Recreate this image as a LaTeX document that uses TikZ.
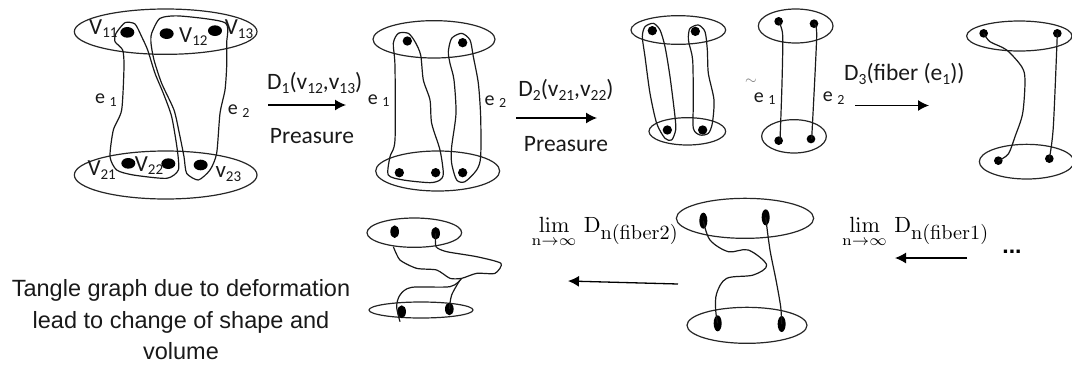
\documentclass[tikz,border=0pt]{standalone}
\usepackage{graphicx}
\usepackage[no-math]{fontspec}
\setmainfont{Carlito}
\newfontfamily\arialf{Liberation Sans}
\usetikzlibrary{arrows.meta}
\newcommand{\sbs}[1]{\raisebox{-0.35ex}{\fontsize{15}{15}\selectfont #1}}
\newcommand{\sbt}[1]{\raisebox{-0.35ex}{\fontsize{15.5}{15.5}\selectfont #1}}
\newcommand{\sbe}[1]{\raisebox{-0.3ex}{\fontsize{14}{14}\selectfont #1}}
\newcommand{\limtxt}[1]{\scalebox{2.2}{$\displaystyle\lim_{\mathrm{n}\to\infty}\,\mathrm{D}_{\hbox{\scalebox{0.92}{$\mathrm{n(fiber#1)}$}}}$}}
\tikzset{
 ring/.style={draw=black!85,line width=1.2pt},
 hull/.style={draw=black!90,line width=1.2pt,line join=round},
 bead/.style={fill=black},
 vlab/.style={inner sep=0pt,font=\fontsize{23}{26}\selectfont,text=black!90},
 elab/.style={inner sep=0pt,font=\fontsize{20}{22}\selectfont,text=black!90},
 oplab/.style={inner sep=0pt,font=\fontsize{23.5}{26}\selectfont,text=black!90},
 limlab/.style={inner sep=0pt,anchor=base west},
 flow/.style={draw=black,line width=1.3pt,-{Latex[length=11pt,width=11pt]}},
 zoomA/.style={shift={(#1)},x=0.33333pt,y=-0.33333pt}
}
\begin{document}
\begin{tikzpicture}[x=1pt,y=-1pt]
\useasboundingbox (0,0) rectangle (1072,365);
% panel 1
\begin{scope}[zoomA={50,0}]
\draw[ring] (347,95) ellipse [x radius=274,y radius=68];
\draw[ring] (347,525) ellipse [x radius=274,y radius=72];
\foreach \p/\q in {232/97,350/101,495/92,235/490,355/491,452/495}
 \fill[bead] (\p,\q) ellipse [x radius=21,y radius=16];
\draw[hull] plot[smooth cycle,tension=0.4] coordinates {(198,100)(225,68)(255,72)(275,110)(293,150)(315,220)(340,280)(365,350)(382,450)(385,510)(350,535)(250,525)(200,510)(180,470)(190,390)(215,330)(222,200)(218,150)(195,125)};
\draw[hull] plot[smooth cycle,tension=0.4] coordinates {(305,100)(330,55)(390,48)(525,68)(530,130)(530,200)(525,270)(510,340)(500,460)(480,510)(445,540)(410,520)(402,470)(388,400)(372,330)(335,250)(312,180)(303,130)};
\node[vlab] (v11) at (160,86) {V\sbs{11}};
\node[vlab] (v12) at (430,110) {V\sbs{12}};
\node[vlab] (v13) at (567,88) {V\sbs{13}};
\node[vlab] (v21) at (155,510) {V\sbs{21}};
\node[vlab] (v22) at (297,497) {V\sbs{22}};
\node[vlab] (v23) at (535,522) {v\sbs{23}};
\node[elab] (e1a) at (168,301) {e \sbe{1}};
\node[elab] (e2a) at (566,333) {e \sbe{2}};
\end{scope}
\node[oplab,anchor=west] (d1) at (267,83) {D\sbt{1}(v\sbt{12},v\sbt{13})};
\node[oplab] (p1) at (312,136) {Preasure};
\coordinate (a1s) at (268,105); \coordinate (a1e) at (346,105);
\draw[flow] (a1s) -- (a1e);
% panel 2
\begin{scope}[zoomA={350,0}]
\draw[ring] (252,118) ellipse [x radius=183,y radius=56];
\draw[ring] (263,513) ellipse [x radius=186,y radius=60];
\foreach \p/\q in {172/123,338/128,148/518,257/518,338/518}
 \fill[bead] (\p,\q) circle [x radius=14,y radius=14];
\draw[hull] plot[smooth cycle,tension=0.45] coordinates {(130,130)(145,100)(175,100)(195,125)(212,165)(220,240)(240,300)(245,370)(270,450)(280,520)(270,540)(240,548)(160,540)(115,525)(120,470)(135,420)(135,200)};
\draw[hull] plot[smooth cycle,tension=0.45] coordinates {(295,155)(305,115)(335,100)(360,120)(370,170)(385,250)(392,350)(392,470)(380,510)(345,545)(320,540)(305,490)(305,440)(318,340)(312,240)(300,190)};
\node[elab] (e1b) at (86,302) {e \sbe{1}};
\node[elab] (e2b) at (436,305) {e \sbe{2}};
\end{scope}
\node[oplab] (d2) at (566,90) {D\sbt{2}(v\sbt{21},v\sbt{22})};
\node[oplab] (p2) at (566,144) {Preasure};
\coordinate (a2s) at (516,118); \coordinate (a2e) at (597,118);
\draw[flow] (a2s) -- (a2e);
% panel 3
\begin{scope}[zoomA={625,0}]
\draw[ring] (160,90) ellipse [x radius=142,y radius=43];
\draw[ring] (187,394) ellipse [x radius=115,y radius=41];
\foreach \p/\q in {82/92,211/94,127/390,233/390}
 \fill[bead] (\p,\q) circle [x radius=14,y radius=14];
\draw[hull] plot[smooth cycle,tension=0.45] coordinates {(52,110)(60,80)(85,70)(105,90)(120,140)(135,230)(150,350)(152,390)(140,420)(120,415)(95,370)(75,280)(60,170)};
\draw[hull] plot[smooth cycle,tension=0.45] coordinates {(190,110)(195,85)(220,75)(240,95)(247,150)(250,220)(267,300)(262,370)(250,400)(225,405)(205,385)(205,300)(203,180)(192,130)};
\end{scope}
% panel 3b
\begin{scope}[zoomA={700,0}]
\draw[ring] (287,78) ellipse [x radius=112,y radius=51];
\draw[ring] (282,409) ellipse [x radius=97,y radius=50];
\foreach \p/\q in {236/64,342/71,236/422,333/417}
 \fill[bead] (\p,\q) circle [x radius=13,y radius=13];
\draw[hull] plot[smooth,tension=0.45] coordinates {(236,64)(248,105)(246,250)(240,422)};
\draw[hull] plot[smooth,tension=0.45] coordinates {(342,71)(350,110)(335,417)};
\node[elab] (e1c) at (194,296) {e \sbe{1}};
\node[elab] (e2c) at (401,294) {e \sbe{2}};
\node[inner sep=0pt,text=black!55] (sim) at (153,246) {\scalebox{1.5}{$\sim$}};
\end{scope}
\node[oplab,anchor=west] (d3) at (844,74) {D\sbt{3}(fiber (e\sbt{1}))};
\coordinate (a3s) at (855,105.5); \coordinate (a3e) at (929,105.5);
\draw[flow] (a3s) -- (a3e);
% panel 4
\begin{scope}[zoomA={700,0}]
\draw[ring] (958,108) ellipse [x radius=158,y radius=45];
\draw[ring] (980,485) ellipse [x radius=142,y radius=52];
\foreach \p/\q in {851/100,1072/100,895/482,1048/476}
 \fill[bead] (\p,\q) circle [x radius=13,y radius=13];
\draw[hull] plot[smooth,tension=0.5] coordinates {(851,100)(870,125)(920,150)(965,200)(975,240)(968,340)(945,410)(925,462)(895,482)};
\draw[hull] plot[smooth,tension=0.5] coordinates {(1072,100)(1060,380)(1048,476)};
\end{scope}
% lower middle
\begin{scope}[zoomA={670,190}]
\draw[ring] (225,85) ellipse [x radius=206,y radius=60];
\draw[ring] (231,406) ellipse [x radius=180,y radius=54];
\foreach \p/\q in {100/92,287/82,143/400,335/402}
 \fill[bead] (\p,\q) ellipse [x radius=12,y radius=24];
\draw[hull] plot[smooth,tension=0.55] coordinates {(100,92)(120,150)(175,185)(235,180)(290,225)(250,255)(170,265)(140,310)(137,360)(143,400)};
\draw[hull] plot[smooth,tension=0.5] coordinates {(287,82)(300,180)(318,270)(332,350)(335,402)};
\end{scope}
\node[limlab] (l1) at (842,232) {\limtxt{1}};
\coordinate (a4s) at (967,258); \coordinate (a4e) at (895,258);
\draw[flow] (a4s) -- (a4e);
\node[inner sep=0pt,font=\arialf\bfseries\fontsize{23}{23}\selectfont] (dots) at (1012,252) {...};
% lower left
\begin{scope}[zoomA={350,190}]
\draw[ring] (193,128) ellipse [x radius=142,y radius=44];
\draw[ring] (213,360) ellipse [x radius=156,y radius=24];
\foreach \p/\q in {134/125,257/130,155/365,298/357}
 \fill[bead] (\p,\q) ellipse [x radius=13,y radius=19];
\draw[hull] plot[smooth,tension=0.4] coordinates {(130,170)(150,210)(200,235)(260,240)(300,265)(335,265)(380,250)(435,250)(453,220)(380,200)(290,185)(258,170)(257,130)};
\draw[hull] plot[smooth,tension=0.5] coordinates {(335,265)(300,290)(185,292)(150,315)(140,350)(150,395)};
\draw[hull] plot[smooth,tension=0.5] coordinates {(330,270)(305,315)(298,357)};
\end{scope}
\node[limlab] (l2) at (531.5,232) {\limtxt{2}};
\coordinate (a5s) at (678,284); \coordinate (a5e) at (568,281);
\draw[flow] (a5s) -- (a5e);
% caption
\node[inner sep=0pt,align=center,text=black!90,font=\arialf\fontsize{23.5}{31.5}\selectfont] (cap) at (181,320) {Tangle graph due to deformation\\lead to change of shape and\\volume};
\end{tikzpicture}
\end{document}
